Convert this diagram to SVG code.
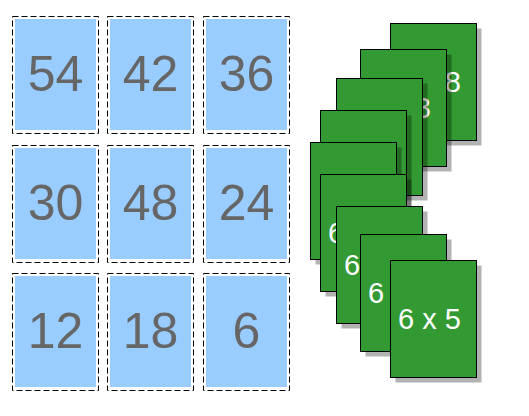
<svg xmlns="http://www.w3.org/2000/svg" width="529" height="416" viewBox="0 0 529 416">
<style>
.frame{fill:none;stroke:#000;stroke-width:1;stroke-dasharray:6,3}
.cell{fill:#99ccff}
.num{font-family:"Liberation Sans",Arial,sans-serif;font-size:50px;fill:#666666;text-anchor:middle}
.card{fill:#339933;stroke:#000;stroke-width:1}
.shadow{fill:#000;fill-opacity:0.3}
.lbl{font-family:"Liberation Sans",Arial,sans-serif;font-size:29px;fill:#ffffff}
</style>
<rect width="529" height="416" fill="#ffffff"/>
<g id="grid">
<g id="c54"><rect class="frame" x="12.5" y="16.5" width="86" height="117"/><rect class="cell" x="15" y="19" width="81" height="111"/><text class="num" x="55.5" y="91">54</text></g>
<g id="c42"><rect class="frame" x="107.5" y="16.5" width="86" height="117"/><rect class="cell" x="110" y="19" width="81" height="111"/><text class="num" x="150.5" y="91">42</text></g>
<g id="c36"><rect class="frame" x="203.5" y="16.5" width="86" height="117"/><rect class="cell" x="206" y="19" width="81" height="111"/><text class="num" x="246.5" y="91">36</text></g>
<g id="c30"><rect class="frame" x="12.5" y="145.5" width="86" height="117"/><rect class="cell" x="15" y="148" width="81" height="111"/><text class="num" x="55.5" y="220">30</text></g>
<g id="c48"><rect class="frame" x="107.5" y="145.5" width="86" height="117"/><rect class="cell" x="110" y="148" width="81" height="111"/><text class="num" x="150.5" y="220">48</text></g>
<g id="c24"><rect class="frame" x="203.5" y="145.5" width="86" height="117"/><rect class="cell" x="206" y="148" width="81" height="111"/><text class="num" x="246.5" y="220">24</text></g>
<g id="c12"><rect class="frame" x="12.5" y="273.5" width="86" height="117"/><rect class="cell" x="15" y="276" width="81" height="111"/><text class="num" x="55.5" y="348">12</text></g>
<g id="c18"><rect class="frame" x="107.5" y="273.5" width="86" height="117"/><rect class="cell" x="110" y="276" width="81" height="111"/><text class="num" x="150.5" y="348">18</text></g>
<g id="c6"><rect class="frame" x="203.5" y="273.5" width="86" height="117"/><rect class="cell" x="206" y="276" width="81" height="111"/><text class="num" x="246.5" y="348">6</text></g>
</g>
<g id="cards">
<g id="card1"><rect class="shadow" x="395.5" y="28.5" width="86" height="117"/><rect class="card" x="390.5" y="23.5" width="86" height="117"/><text class="lbl" x="398" y="92">6 x 8</text></g>
<g id="card2"><rect class="shadow" x="365.5" y="54.5" width="86" height="117"/><rect class="card" x="360.5" y="49.5" width="86" height="117"/><text class="lbl" x="368" y="118">6 x 3</text></g>
<g id="card3"><rect class="shadow" x="341.5" y="83.5" width="86" height="117"/><rect class="card" x="336.5" y="78.5" width="86" height="117"/></g>
<g id="card4"><rect class="shadow" x="325.5" y="115.5" width="86" height="117"/><rect class="card" x="320.5" y="110.5" width="86" height="117"/></g>
<g id="card5"><rect class="shadow" x="315.5" y="147.5" width="86" height="117"/><rect class="card" x="310.5" y="142.5" width="86" height="117"/></g>
<g id="card6"><rect class="shadow" x="325.5" y="179.5" width="86" height="117"/><rect class="card" x="320.5" y="174.5" width="86" height="117"/><text class="lbl" x="328" y="243">6</text></g>
<g id="card7"><rect class="shadow" x="341.5" y="211.5" width="86" height="117"/><rect class="card" x="336.5" y="206.5" width="86" height="117"/><text class="lbl" x="344" y="275">6</text></g>
<g id="card8"><rect class="shadow" x="365.5" y="239.5" width="86" height="117"/><rect class="card" x="360.5" y="234.5" width="86" height="117"/><text class="lbl" x="368" y="303">6</text></g>
<g id="card9"><rect class="shadow" x="395.5" y="265.5" width="86" height="117"/><rect class="card" x="390.5" y="260.5" width="86" height="117"/><text class="lbl" x="398" y="329">6 x 5</text></g>
</g>
</svg>
